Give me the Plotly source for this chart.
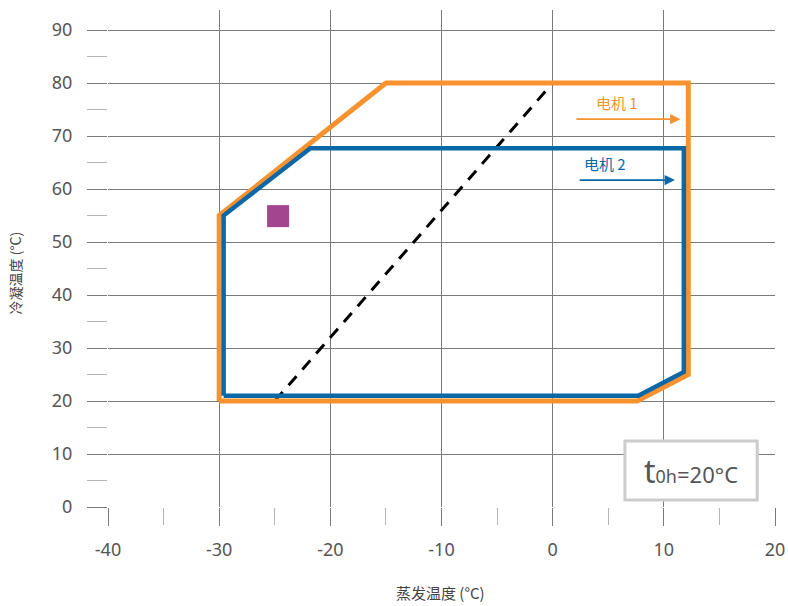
import plotly.graph_objects as go

# Motor 1 (orange) envelope
motor1_x = [-30, -30, -15, 12.2, 12.2, 7.6, -30]
motor1_y = [20, 55, 80, 80, 25, 20, 20]
# Motor 2 (blue) envelope
motor2_x = [-29.6, -29.6, -21.8, 11.8, 11.8, 7.7, -29.6]
motor2_y = [21, 55, 67.7, 67.7, 25.5, 21, 21]
# Dashed line
dash_x = [-25, 0]
dash_y = [20, 80]
# Purple marker
pt_x = [-24.7]
pt_y = [54.9]

x_ticks = [-40, -30, -20, -10, 0, 10, 20]
y_ticks = [0, 10, 20, 30, 40, 50, 60, 70, 80, 90]

ORANGE = "#F7922E"
BLUE = "#0B67A6"
PURPLE = "#A4468F"
GRID = "#7a7a7a"
TXT = "#555555"

fig = go.Figure()
fig.add_trace(go.Scatter(x=dash_x, y=dash_y, mode="lines",
                         line=dict(color="black", width=3, dash="12px,9px"), showlegend=False))
fig.add_trace(go.Scatter(x=motor1_x, y=motor1_y, mode="lines",
                         line=dict(color=ORANGE, width=5), showlegend=False))
fig.add_trace(go.Scatter(x=motor2_x, y=motor2_y, mode="lines",
                         line=dict(color=BLUE, width=4.5), showlegend=False))
fig.add_trace(go.Scatter(x=pt_x, y=pt_y, mode="markers",
                         marker=dict(symbol="square", size=22, color=PURPLE, line=dict(width=0)),
                         showlegend=False))

# legend-like annotations with arrows
fig.add_annotation(x=11.5, y=73.2, ax=2.0, ay=73.2, xref="x", yref="y", axref="x", ayref="y",
                   text="", showarrow=True, arrowhead=2, arrowsize=1.3, arrowwidth=1.6,
                   arrowcolor=ORANGE)
fig.add_annotation(x=5.8, y=76.3, xref="x", yref="y", text="电机 1", showarrow=False,
                   font=dict(family="Noto Sans CJK SC", size=15, color=ORANGE))
fig.add_annotation(x=11.0, y=61.7, ax=2.3, ay=61.7, xref="x", yref="y", axref="x", ayref="y",
                   text="", showarrow=True, arrowhead=2, arrowsize=1.3, arrowwidth=1.6,
                   arrowcolor=BLUE)
fig.add_annotation(x=4.7, y=64.9, xref="x", yref="y", text="电机 2", showarrow=False,
                   font=dict(family="Noto Sans CJK SC", size=15, color=BLUE))

# condition box
fig.add_shape(type="rect", x0=6.5, x1=18.4, y0=1.3, y1=12.45, xref="x", yref="y",
              line=dict(color="#cccccc", width=3), fillcolor="white", layer="above")
fig.add_annotation(x=12.4, y=6.8, xref="x", yref="y", showarrow=False,
                   text="<span style='font-size:32px'>t</span><span style='font-size:18px'>0h</span>=20°C",
                   font=dict(family="Noto Sans", size=22, color=TXT))

# axis titles
fig.add_annotation(x=-0.1394, y=0.47, xref="paper", yref="paper", showarrow=False,
                   text="冷凝温度 (°C)", textangle=-90, xanchor="center", yanchor="middle",
                   font=dict(family="Noto Sans CJK SC", size=14, color="#444"))
fig.add_annotation(x=0.498, y=-0.173, xref="paper", yref="paper", showarrow=False,
                   text="蒸发温度 (°C)", xanchor="center", yanchor="middle",
                   font=dict(family="Noto Sans CJK SC", size=15, color="#444"))

fig.update_layout(
    width=788, height=606,
    margin=dict(l=108, r=13, t=10, b=99, autoexpand=False),
    plot_bgcolor="white", paper_bgcolor="white",
    font=dict(family="Noto Sans, Noto Sans CJK SC", color=TXT),
)
fig.update_xaxes(range=[-40, 20], tickvals=x_ticks, ticktext=[str(v) for v in x_ticks],
                 automargin=False, ticklabeloverflow="allow",
                 showgrid=True, gridcolor=GRID, gridwidth=1, zeroline=False, showline=False,
                 ticks="outside", ticklen=18, tickcolor=GRID, tickwidth=1, ticklabelstandoff=8,
                 minor=dict(dtick=5, tick0=-35, ticks="outside", ticklen=17, tickcolor="#b5b5b5", showgrid=False),
                 tickfont=dict(family="Noto Sans", size=18, color=TXT))
fig.update_yaxes(range=[0, 93.8], tickvals=y_ticks, ticktext=[str(v) for v in y_ticks],
                 automargin=False, ticklabeloverflow="allow",
                 showgrid=True, gridcolor=GRID, gridwidth=1, zeroline=False, showline=False,
                 ticks="outside", ticklen=20, tickcolor=GRID, tickwidth=1, ticklabelstandoff=11,
                 minor=dict(dtick=5, tick0=5, ticks="outside", ticklen=20, tickcolor="#b5b5b5", showgrid=False),
                 tickfont=dict(family="Noto Sans", size=18, color=TXT))

fig.write_html("out.html", config={"displayModeBar": False},
               post_script="document.body.style.margin='0';document.body.style.overflow='hidden';")
